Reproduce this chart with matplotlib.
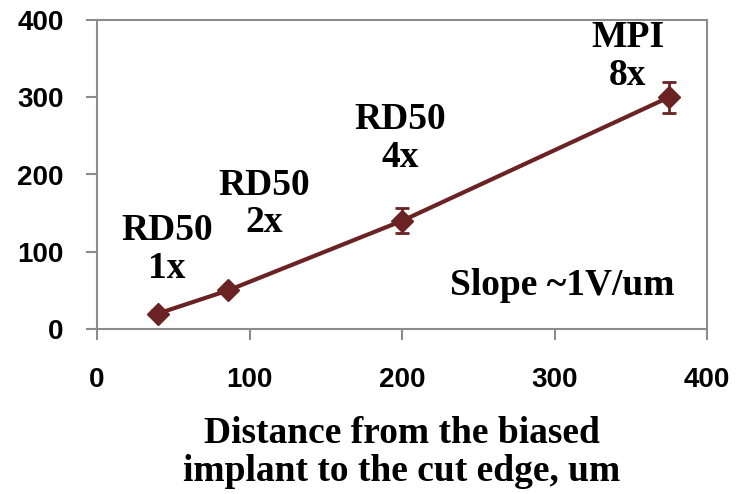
import matplotlib.pyplot as plt

plt.rcParams["font.family"] = ["Liberation Sans", "DejaVu Sans"]

# distance from the biased implant to the cut edge (um) vs. voltage
distance = [40, 86, 200, 375]
voltage = [20, 50, 140, 300]
voltage_err = [4, 4, 16, 20]

labels = ["RD50\n1x", "RD50\n2x", "RD50\n4x", "MPI\n8x"]
label_pos = [(46, 66), (109.5, 125), (199, 210), (348, 316)]

xticks = [0, 100, 200, 300, 400]
yticks = [0, 100, 200, 300, 400]

LINE = "#6b2222"
AXIS = "#8c8c8c"
SERIF = "Liberation Serif"

fig = plt.figure(figsize=(7.42, 4.94), dpi=100)
ax = fig.add_axes([97 / 742, 1 - 329 / 494, 610 / 742, 309 / 494])

ax.errorbar(distance, voltage, yerr=voltage_err, color=LINE, lw=3,
            marker="D", markersize=11, elinewidth=2, capsize=5, capthick=2,
            zorder=3)

# last-line baselines sit at the given y
for text, (x, y) in zip(labels, label_pos):
    ax.text(x, y, text, ha="center", va="baseline", fontsize=27,
            fontweight="bold", family=SERIF, linespacing=1.1)
ax.text(305, 44, "Slope ~1V/um", ha="center", va="baseline", fontsize=27,
        fontweight="bold", family=SERIF)

ax.set_xlim(0, 400)
ax.set_ylim(0, 400)
ax.set_xticks(xticks)
ax.set_yticks(yticks)
for s in ax.spines.values():
    s.set_color(AXIS)
    s.set_linewidth(1.5)
ax.tick_params(axis="both", direction="out", length=8, width=1.5,
               color=AXIS, labelsize=20)
ax.tick_params(axis="y", pad=16)
ax.tick_params(axis="x", pad=19)
for lab in ax.get_xticklabels() + ax.get_yticklabels():
    lab.set_fontweight("bold")

ax.set_xlabel("Distance from the biased\nimplant to the cut edge, um",
              fontsize=27, fontweight="bold", family=SERIF, linespacing=1.1,
              labelpad=17)

fig.savefig("out.png", dpi=100)
